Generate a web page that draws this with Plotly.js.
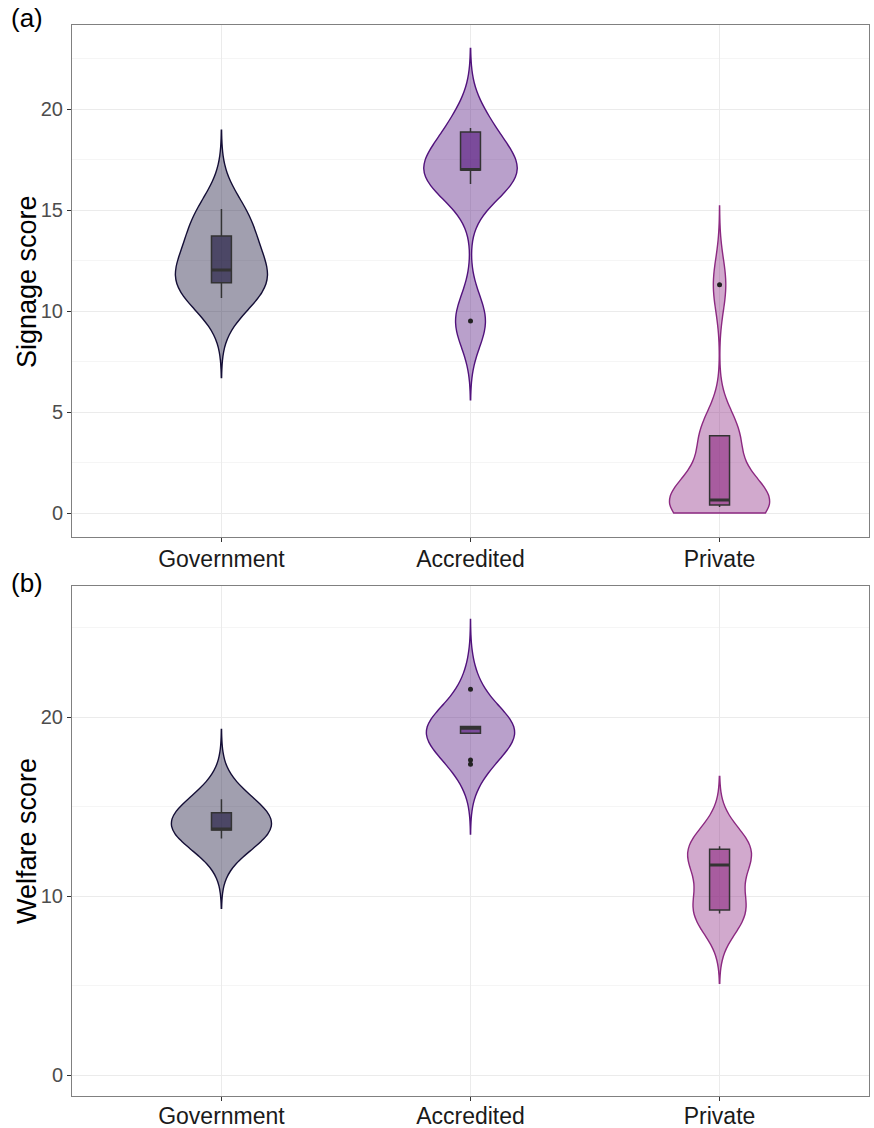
<!DOCTYPE html>
<html>
<head>
<meta charset="utf-8">
<script src="https://cdn.plot.ly/plotly-3.0.1.min.js"></script>
<style>html,body{margin:0;padding:0;background:#fff}#chart{width:874px;height:1128px}</style>
</head>
<body>
<div id="chart"></div>
<script>
// ---------- data ----------
const categories = ['Government', 'Accredited', 'Private'];
const baseColors = ['#140E36', '#51127C', '#8C2981'];
const panelLabels = ['(a)', '(b)'];
const axisTitles = ['Signage score', 'Welfare score'];

// Panel (a): Signage score — samples behind the violins
const signageGovernment = [10.6, 11.2, 11.6, 12.0, 13.2, 14.2, 15.05];
const signageAccredited = [9.5, 16.3, 17.0, 17.2, 19.1];
const signagePrivate = [0.3, 0.4, 0.4, 0.4, 0.5, 0.6, 0.7, 0.9, 3.8, 3.8, 3.8, 11.3];
// Panel (a) box statistics
const signageQ1 = [11.4, 16.98, 0.4];
const signageMedian = [12.03, 17.0, 0.65];
const signageQ3 = [13.71, 18.86, 3.82];
const signageLowerWhisker = [10.64, 16.29, 0.3];
const signageUpperWhisker = [15.05, 19.06, 3.82];
const signageOutlierCat = ['Accredited', 'Private'];
const signageOutlierVal = [9.5, 11.3];

// Panel (b): Welfare score — samples behind the violins
const welfareGovernment = [13.22, 13.65, 13.7, 13.8, 14.4, 14.65, 15.4];
const welfareAccredited = [17.36, 17.6, 19.1, 19.2, 19.3, 19.35, 19.47, 19.47, 21.55];
const welfarePrivate = [9.03, 9.1, 9.3, 11.73, 12.45, 12.77, 12.78];
// Panel (b) box statistics
const welfareQ1 = [13.69, 19.1, 9.22];
const welfareMedian = [13.75, 19.38, 11.73];
const welfareQ3 = [14.65, 19.47, 12.61];
const welfareLowerWhisker = [13.22, 19.1, 9.03];
const welfareUpperWhisker = [15.4, 19.47, 12.78];
const welfareOutlierCat = ['Accredited', 'Accredited', 'Accredited'];
const welfareOutlierVal = [21.55, 17.6, 17.36];

// ---------- styling helpers ----------
const BW = 1.3;
function rgba(hex, a) {
  const n = parseInt(hex.slice(1), 16);
  return 'rgba(' + ((n >> 16) & 255) + ',' + ((n >> 8) & 255) + ',' + (n & 255) + ',' + a + ')';
}
function violinTrace(cat, ys, color, xa, ya, group, floor) {
  let lo = Math.min(...ys) - 3 * BW;
  const hi = Math.max(...ys) + 3 * BW;
  if (floor !== undefined) lo = Math.max(lo, floor);
  return {
    type: 'violin', x: ys.map(() => cat), y: ys, xaxis: xa, yaxis: ya,
    bandwidth: BW, spanmode: 'manual', span: [lo, hi],
    scalegroup: group, scalemode: 'width',
    fillcolor: rgba(color, 0.4), line: {color: color, width: 1.4},
    points: false, box: {visible: false}, meanline: {visible: false},
    showlegend: false, hoverinfo: 'skip'
  };
}
function boxTrace(i, q1, med, q3, lw, uw, color, xa, ya) {
  return {
    type: 'box', x: [categories[i]], q1: [q1[i]], median: [med[i]], q3: [q3[i]],
    lowerfence: [lw[i]], upperfence: [uw[i]], xaxis: xa, yaxis: ya,
    width: 0.08, whiskerwidth: 0, boxpoints: false,
    fillcolor: rgba(color, 0.6), line: {color: '#333333', width: 1.5},
    showlegend: false, hoverinfo: 'skip'
  };
}
function medianTrace(i, med, xa, ya) {
  return {
    type: 'box', x: [categories[i]], q1: [med[i]], median: [med[i]], q3: [med[i]],
    lowerfence: [med[i]], upperfence: [med[i]], xaxis: xa, yaxis: ya,
    width: 0.08, whiskerwidth: 0, boxpoints: false,
    fillcolor: 'rgba(0,0,0,0)', line: {color: '#333333', width: 3},
    showlegend: false, hoverinfo: 'skip'
  };
}
function outlierTrace(cats, vals, xa, ya) {
  return {
    type: 'scatter', mode: 'markers', x: cats, y: vals, xaxis: xa, yaxis: ya,
    marker: {color: '#222222', size: 5}, showlegend: false, hoverinfo: 'skip'
  };
}

const signageSamples = [signageGovernment, signageAccredited, signagePrivate];
const welfareSamples = [welfareGovernment, welfareAccredited, welfarePrivate];

const traces = [];
categories.forEach((c, i) => {
  traces.push(violinTrace(c, signageSamples[i], baseColors[i], 'x', 'y', 'a', i === 2 ? 0 : undefined));
});
categories.forEach((c, i) => {
  traces.push(boxTrace(i, signageQ1, signageMedian, signageQ3, signageLowerWhisker, signageUpperWhisker, baseColors[i], 'x', 'y'));
  traces.push(medianTrace(i, signageMedian, 'x', 'y'));
});
traces.push(outlierTrace(signageOutlierCat, signageOutlierVal, 'x', 'y'));

categories.forEach((c, i) => {
  traces.push(violinTrace(c, welfareSamples[i], baseColors[i], 'x2', 'y2', 'b'));
});
categories.forEach((c, i) => {
  traces.push(boxTrace(i, welfareQ1, welfareMedian, welfareQ3, welfareLowerWhisker, welfareUpperWhisker, baseColors[i], 'x2', 'y2'));
  traces.push(medianTrace(i, welfareMedian, 'x2', 'y2'));
});
traces.push(outlierTrace(welfareOutlierCat, welfareOutlierVal, 'x2', 'y2'));

const FONT = 'Liberation Sans, Arial, Helvetica, sans-serif';
function xAxis(anchor, standoff) {
  return {
    anchor: anchor, domain: [0, 1], type: 'category',
    categoryorder: 'array', categoryarray: categories, range: [-0.6, 2.6],
    showgrid: true, gridcolor: '#ebebeb', gridwidth: 1, zeroline: false,
    showline: true, mirror: true, linecolor: '#808080', linewidth: 1,
    ticks: 'outside', ticklen: 4, tickwidth: 1, tickcolor: '#333333',
    ticklabelstandoff: standoff,
    tickfont: {family: FONT, size: 23, color: '#1a1a1a'}
  };
}
function yAxis(anchor, domain, range, dtick, minor) {
  return {
    anchor: anchor, domain: domain, range: range, tick0: 0, dtick: dtick,
    showgrid: true, gridcolor: '#ebebeb', gridwidth: 1, zeroline: false,
    minor: {tick0: 0, dtick: minor, showgrid: true, gridcolor: '#f5f5f5', gridwidth: 1, ticks: ''},
    showline: true, mirror: true, linecolor: '#808080', linewidth: 1,
    ticks: 'outside', ticklen: 4, tickwidth: 1, tickcolor: '#333333',
    tickfont: {family: FONT, size: 20, color: '#4d4d4d'}
  };
}

const domA = [0.5219, 1];
const domB = [0, 0.4762];
const layout = {
  width: 874, height: 1128,
  margin: {l: 72, r: 5, t: 25, b: 32},
  paper_bgcolor: '#ffffff', plot_bgcolor: '#ffffff',
  font: {family: FONT},
  violinmode: 'overlay', boxmode: 'overlay', violingap: 0.6, violingroupgap: 0,
  xaxis: xAxis('y', -3),
  yaxis: yAxis('x', domA, [-1.19, 24.16], 5, 2.5),
  xaxis2: xAxis('y2', -5),
  yaxis2: yAxis('x2', domB, [-1.17, 27.32], 10, 5),
  annotations: [
    {text: panelLabels[0], xref: 'paper', yref: 'paper', x: -0.079, y: 1.0065, xanchor: 'left', yanchor: 'middle', showarrow: false, font: {family: FONT, size: 26, color: '#000'}},
    {text: panelLabels[1], xref: 'paper', yref: 'paper', x: -0.079, y: 0.479, xanchor: 'left', yanchor: 'middle', showarrow: false, font: {family: FONT, size: 26, color: '#000'}},
    {text: axisTitles[0], xref: 'paper', yref: 'paper', x: -0.0565, y: (domA[0] + domA[1]) / 2, xanchor: 'center', yanchor: 'middle', textangle: -90, showarrow: false, font: {family: FONT, size: 27, color: '#000'}},
    {text: axisTitles[1], xref: 'paper', yref: 'paper', x: -0.0565, y: (domB[0] + domB[1]) / 2, xanchor: 'center', yanchor: 'middle', textangle: -90, showarrow: false, font: {family: FONT, size: 27, color: '#000'}}
  ]
};

Plotly.newPlot('chart', traces, layout, {displayModeBar: false, staticPlot: true});
</script>
</body>
</html>
